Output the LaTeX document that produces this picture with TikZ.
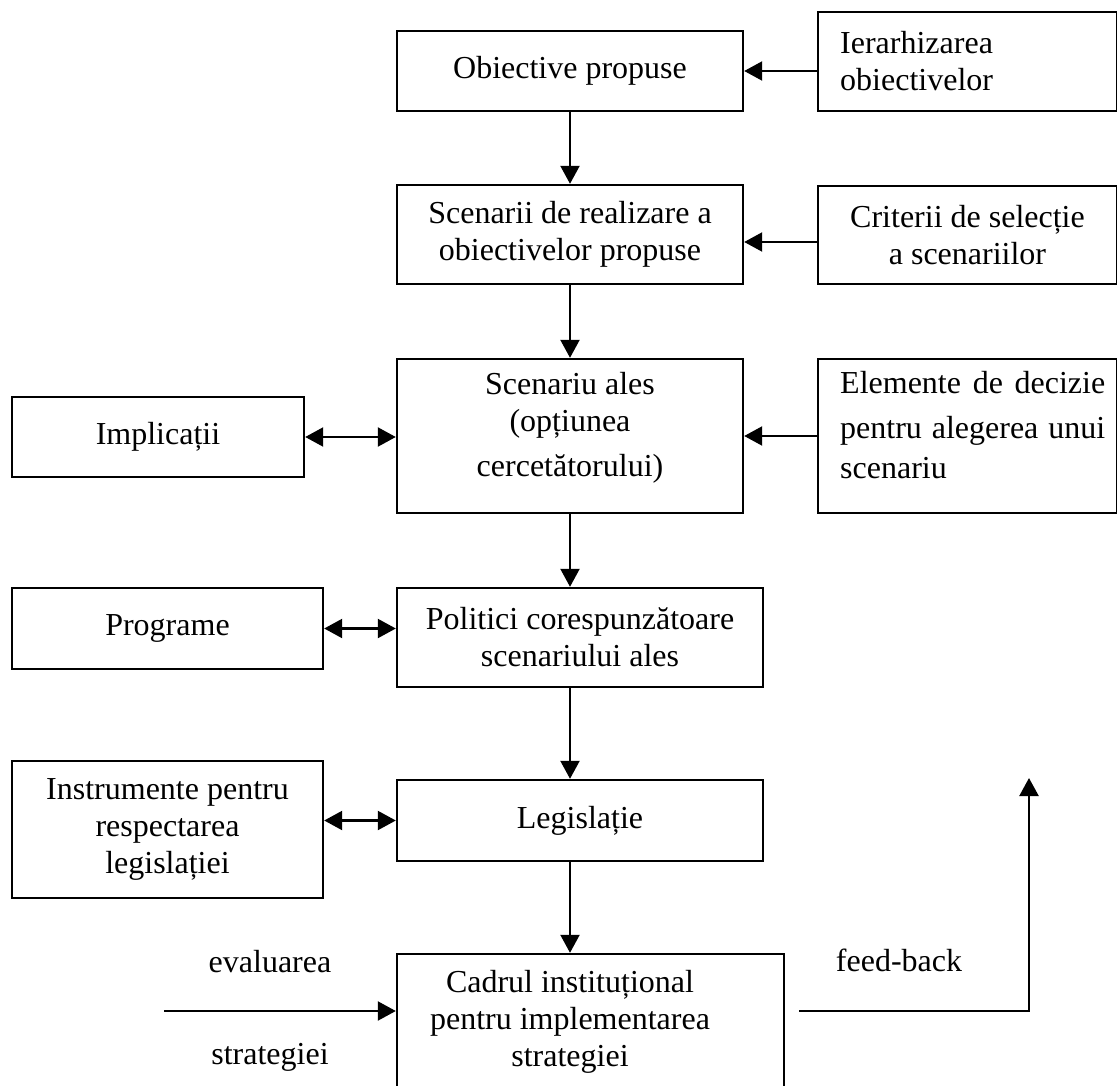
\documentclass[tikz,border=0pt]{standalone}
\usepackage{fontspec}
\setmainfont{Liberation Serif}
\usetikzlibrary{arrows.meta}
\begin{document}
\begin{tikzpicture}[x=1pt,y=-1pt,
  box/.style={draw, line width=2.4pt, inner sep=0pt, align=center},
  txt/.style={inner sep=0pt, align=center},
  arr/.style={line width=2.2pt, -{Triangle[length=18pt,width=19pt]}},
  darr/.style={line width=2.2pt, {Triangle[length=18pt,width=19pt]}-{Triangle[length=18pt,width=19pt]}},
  font=\fontsize{32}{37}\selectfont]
\useasboundingbox (0,0) rectangle (1117,1086);
% main column
\node[box, minimum width=346pt, minimum height=80pt] (obj) at (570,71) {Obiective propuse};
\node[box, minimum width=346pt, minimum height=99pt] (scen) at (570,234.5) {Scenarii de realizare a\\obiectivelor propuse};
\node[box, minimum width=346pt, minimum height=154pt] (ales) at (570,436) {};
\node[txt] (alest) at (570,427.5) {Scenariu ales\\(opțiunea\\[8pt]cercetătorului)};
\node[box, minimum width=366pt, minimum height=99pt] (pol) at (580,637.5) {Politici corespunzătoare\\scenariului ales};
\node[box, minimum width=366pt, minimum height=81pt] (leg) at (580,820.5) {Legislație};
\node[box, minimum width=387pt, minimum height=140pt] (cad) at (590.5,1024) {};
\node[txt] (cadt) at (570,1022) {Cadrul instituțional\\pentru implementarea\\strategiei};
% right column
\node[box, minimum width=299pt, minimum height=99pt] (ier) at (967.5,61.5) {};
\node[txt, anchor=west, align=left] (iert) at (840,61) {Ierarhizarea\\obiectivelor};
\node[box, minimum width=299pt, minimum height=98pt] (crit) at (967.5,235) {Criterii de selecție\\a scenariilor};
\node[box, minimum width=299pt, minimum height=154pt] (elem) at (967.5,436) {};
\node[txt, anchor=west, align=left] (elemt) at (840,425.5) {\makebox[265pt][s]{Elemente de decizie}\\[8pt]\makebox[265pt][s]{pentru alegerea unui}\\[3pt]scenariu};
% left column
\node[box, minimum width=292pt, minimum height=80pt] (impl) at (158,437) {Implicații};
\node[box, minimum width=311pt, minimum height=81pt] (prog) at (167.5,628.5) {Programe};
\node[box, minimum width=311pt, minimum height=137pt] (instr) at (167.5,829.5) {Instrumente pentru\\respectarea\\legislației};
% free texts
\node[txt] (eval) at (270,962) {evaluarea};
\node[txt] (strat) at (270,1057) {strategiei};
\node[txt] (fb) at (899,960) {feed-back};
\coordinate (evs) at (164,1011);
\coordinate (fbs) at (799,1011);
\coordinate (fbc) at (1029,1011);
\coordinate (fbe) at (1029,778);
% connectors
\draw[arr] (ier.west |- obj.east) -- (obj.east);
\draw[arr] (obj.south) -- (scen.north);
\draw[arr] ([yshift=-7pt]crit.west) -- ([yshift=-7pt]crit.west -| scen.east);
\draw[arr] (scen.south) -- (ales.north);
\draw[arr] (elem.west) -- (ales.east);
\draw[darr] (impl.east) -- (impl.east -| ales.west);
\draw[arr] (ales.south) -- (ales.south |- pol.north);
\draw[darr] (prog.east) -- (prog.east -| pol.west);
\draw[arr] (pol.south -| ales.south) -- (leg.north -| ales.south);
\draw[darr] (leg.west -| instr.east) -- (leg.west);
\draw[arr] (leg.south -| ales.south) -- (cad.north -| ales.south);
\draw[arr] (evs) -- (evs -| cad.west);
\draw[arr] (fbs) -- (fbc) -- (fbe);
\end{tikzpicture}
\end{document}
